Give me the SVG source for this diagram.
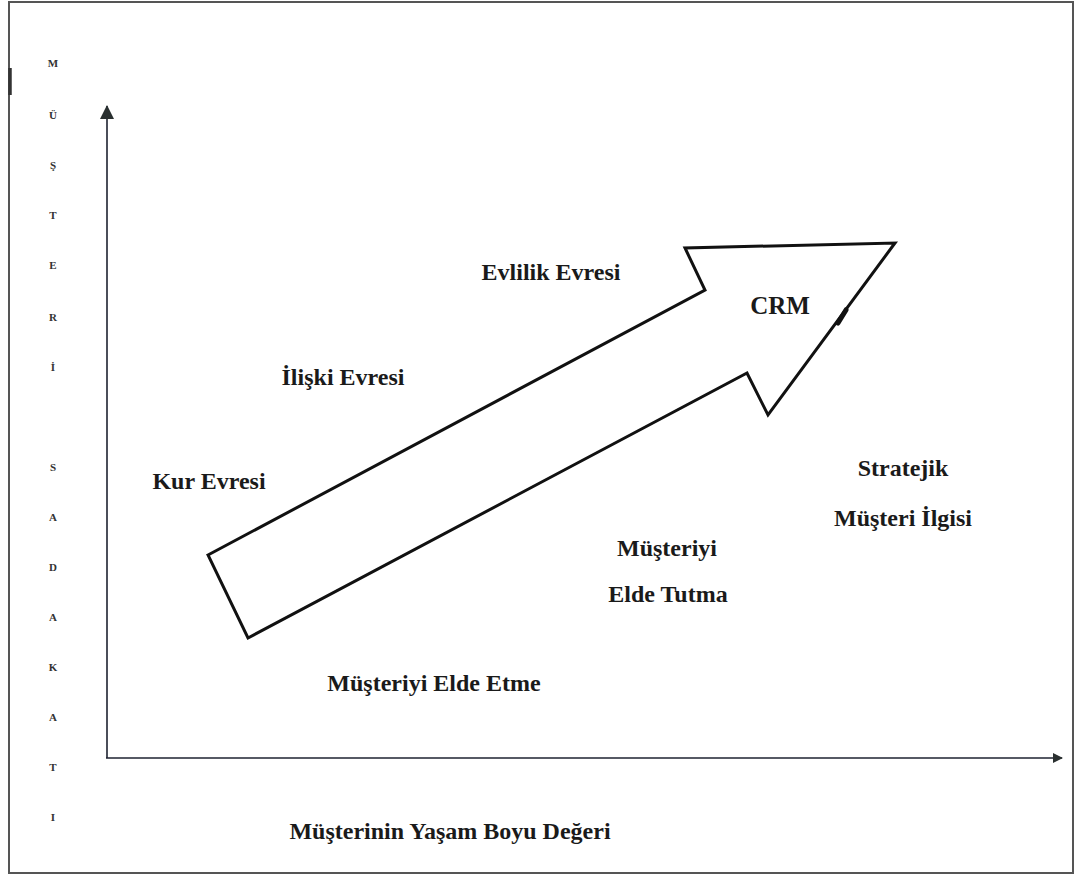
<svg xmlns="http://www.w3.org/2000/svg" width="1079" height="879" viewBox="0 0 1079 879">
<style>
.t{font-family:"Liberation Serif","Times New Roman",serif;font-weight:bold;font-size:24px;fill:#1a1a1a;text-anchor:middle}
.c{font-family:"Liberation Serif","Times New Roman",serif;font-weight:bold;font-size:25px;fill:#1a1a1a;text-anchor:middle}
.v{font-family:"Liberation Serif","Times New Roman",serif;font-weight:bold;font-size:11px;fill:#333;text-anchor:middle}
.ax{stroke:#1e2230;stroke-width:1.6;fill:none}
</style>
<defs>
<marker id="ah" viewBox="0 0 10 10" refX="9" refY="5" markerWidth="10" markerHeight="10" markerUnits="userSpaceOnUse" orient="auto">
<path d="M0,0 L10,5 L0,10 z" fill="#2a3030"/>
</marker>
<marker id="ah2" viewBox="0 0 14 14" refX="13" refY="7" markerWidth="14" markerHeight="14" markerUnits="userSpaceOnUse" orient="auto">
<path d="M0,0 L14,7 L0,14 z" fill="#2a3030"/>
</marker>
</defs>
<rect x="0" y="0" width="1079" height="879" fill="#fff"/>
<rect id="frame" x="9" y="2" width="1064" height="871" fill="none" stroke="#555" stroke-width="2"/>
<line x1="10" y1="68" x2="10" y2="95" stroke="#333" stroke-width="3.5"/>
<g id="connectors">
<line class="ax" x1="107" y1="758" x2="107" y2="106" marker-end="url(#ah2)"/>
<line class="ax" x1="106" y1="758" x2="1062" y2="758" marker-end="url(#ah)"/>
</g>
<g id="crm-arrow">
<polygon points="208,555 705,290 685,248 895,243 768,415 747,373 248,638" fill="#fff" stroke="#111" stroke-width="3" stroke-linejoin="miter"/>
<line x1="846" y1="310" x2="838" y2="323" stroke="#111" stroke-width="5" stroke-linecap="round"/>
<text class="c" x="780" y="314">CRM</text>
</g>
<g id="axis-y-label">
<text class="v" x="53" y="67">M</text>
<text class="v" x="53" y="119">Ü</text>
<text class="v" x="53" y="169">Ş</text>
<text class="v" x="53" y="219">T</text>
<text class="v" x="53" y="269">E</text>
<text class="v" x="53" y="321">R</text>
<text class="v" x="53" y="371">İ</text>
<text class="v" x="53" y="471">S</text>
<text class="v" x="53" y="521">A</text>
<text class="v" x="53" y="571">D</text>
<text class="v" x="53" y="621">A</text>
<text class="v" x="53" y="671">K</text>
<text class="v" x="53" y="721">A</text>
<text class="v" x="53" y="771">T</text>
<text class="v" x="53" y="821">I</text>
</g>
<g id="axis-x-label"><text class="t" x="450" y="839">Müşterinin Yaşam Boyu Değeri</text></g>
<g id="kur"><text class="t" x="209" y="489">Kur Evresi</text></g>
<g id="iliski"><text class="t" x="343" y="385">İlişki Evresi</text></g>
<g id="evlilik"><text class="t" x="551" y="280">Evlilik Evresi</text></g>
<g id="elde-etme"><text class="t" x="434" y="691">Müşteriyi Elde Etme</text></g>
<g id="elde-tutma"><text class="t" x="667" y="556">Müşteriyi</text><text class="t" x="668" y="602">Elde Tutma</text></g>
<g id="stratejik"><text class="t" x="903" y="476">Stratejik</text><text class="t" x="903" y="526">Müşteri İlgisi</text></g>
</svg>
